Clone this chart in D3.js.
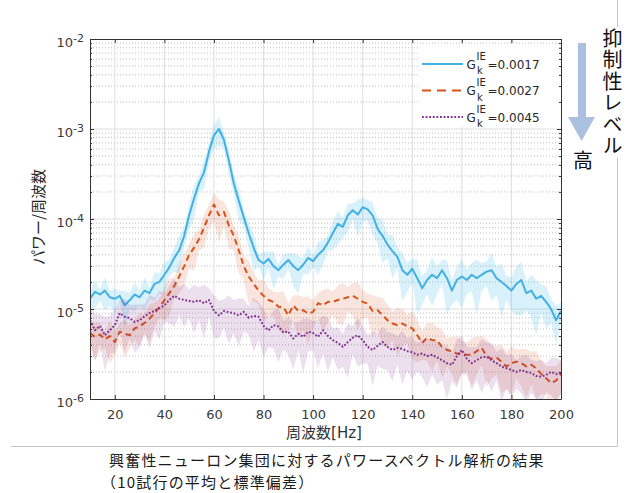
<!DOCTYPE html>
<html lang="ja">
<head>
<meta charset="utf-8">
<script src="https://d3js.org/d3.v7.min.js"></script>
<style>
  body { margin: 0; background: #fff; }
  svg { display: block; }
</style>
</head>
<body>
<script>
// power spectra (mean of 10 trials), values in units of 1e-6
const unit = 1e-6;
const freqs = [10,12,14,16,18,20,22,24,26,28,30,32,34,36,38,40,42,44,46,48,
  50,52,54,56,58,60,62,64,66,68,70,72,74,76,78,80,82,84,86,88,
  90,92,94,96,98,100,102,104,106,108,110,112,114,116,118,120,122,124,126,128,
  130,132,134,136,138,140,142,144,146,148,150,152,154,156,158,160,162,164,166,168,
  170,172,174,176,178,180,182,184,186,188,190,192,194,196,198,200];

const blueMean = [13, 15.5, 14.5, 16, 13.5, 13, 14, 11, 12.5, 14.5,
  13.5, 16, 15, 19, 20, 24, 29, 37, 45, 65,
  110, 170, 250, 330, 560, 850, 1000, 760, 450, 250,
  160, 105, 70, 48, 35, 32, 36, 30, 27, 31,
  35, 30, 27, 31, 37, 34, 40, 45, 55, 70,
  88, 82, 110, 125, 112, 135, 128, 110, 78, 65,
  52, 44, 38, 27, 24, 28, 22, 17, 21, 24,
  22, 27, 22, 16, 21, 23, 21, 24, 22, 24,
  26, 27, 22, 20, 18, 16, 19, 21, 15, 16,
  13, 14, 12, 10, 7.5, 9.5];

const orangeMean = [5.4, 4.9, 5.2, 4.6, 5.0, 4.3, 5.6, 5.3, 5.1, 6.1,
  6.4, 7, 7.8, 9, 10.5, 12.5, 15, 18, 23, 30,
  40, 48, 60, 80, 110, 145, 110, 120, 85, 65,
  45, 30, 23, 19, 16, 14, 12.6, 12, 10.6, 10.5,
  8.5, 11, 9.5, 9.7, 8.9, 9.3, 11.6, 11, 12, 12,
  12.6, 13, 13.5, 14, 13, 12, 11.5, 9.5, 9.7, 8.6,
  7.5, 6.9, 6.6, 6.9, 6.4, 6.1, 5.1, 4.2, 4.8, 4.5,
  4.5, 3.8, 3.5, 3.4, 3.2, 3.2, 3.1, 3.1, 3.4, 3.7,
  3.0, 2.8, 2.9, 2.6, 2.3, 2.5, 2.6, 2.5, 2.3, 2.4,
  2.2, 1.9, 1.7, 1.5, 1.6, 1.9];

const purpleMean = [7.5, 5.8, 6.5, 5.1, 5.8, 6.6, 9, 8.2, 7.9, 7.2,
  7.5, 8.3, 9, 9.5, 10.2, 11, 12.6, 14, 13, 12.6,
  12.3, 12, 12.5, 11.6, 12.6, 9.5, 8.5, 9.5, 9.2, 9,
  8.5, 9.3, 8, 8.4, 8.2, 6.5, 5.8, 6.6, 6.4, 5.5,
  5.6, 4.7, 5.3, 4.9, 5.6, 5.4, 4.9, 5.8, 5, 4.5,
  4.2, 3.8, 4.3, 4.8, 5.1, 4.5, 3.8, 3.5, 3.9, 4.3,
  3.8, 3.5, 3.7, 3.6, 3.4, 3.3, 3.1, 3.2, 3.0, 3.1,
  2.9, 2.7, 2.5, 2.4, 3.0, 3.5, 2.8, 2.5, 2.7, 2.9,
  2.95, 2.7, 2.5, 2.3, 2.2, 2.1, 2.0, 2.1, 2.0, 1.95,
  1.8, 1.77, 1.85, 2.0, 1.9, 1.94];

// standard deviation relative to the mean
const blueSd = [.2,.35,.15,.4,.2,.3,.15,.45,.2,.35,
  .2,.4,.15,.35,.25,.4,.2,.3,.45,.25,
  .3,.4,.2,.35,.25,.3,.35,.2,.3,.25,
  .4,.2,.3,.45,.15,.35,.2,.45,.15,.3,
  .2,.4,.45,.2,.35,.15,.4,.3,.2,.35,
  .4,.25,.35,.2,.45,.3,.25,.4,.3,.5,
  .3,.5,.25,.55,.35,.3,.6,.35,.3,.55,
  .35,.3,.6,.3,.4,.55,.3,.35,.6,.35,
  .3,.55,.35,.6,.3,.4,.55,.6,.35,.5,
  .6,.35,.5,.3,.45,.25];

const orangeSd = [.3,.45,.35,.2,.5,.3,.25,.45,.3,.25,
  .4,.25,.45,.3,.25,.4,.45,.25,.35,.4,
  .3,.45,.25,.4,.3,.35,.5,.3,.45,.3,
  .45,.3,.5,.35,.3,.5,.35,.3,.45,.5,
  .35,.3,.5,.4,.55,.35,.3,.5,.4,.3,
  .45,.5,.3,.4,.55,.35,.3,.5,.4,.55,
  .5,.35,.55,.45,.35,.55,.5,.35,.45,.55,
  .4,.55,.35,.45,.55,.4,.35,.55,.45,.35,
  .55,.4,.35,.55,.45,.55,.35,.45,.55,.4,
  .55,.4,.35,.55,.45,.4];

const purpleSd = [.4,.55,.35,.6,.45,.5,.35,.6,.4,.55,
  .5,.35,.6,.4,.55,.35,.45,.55,.35,.5,
  .35,.55,.4,.6,.35,.5,.45,.35,.55,.4,
  .55,.4,.35,.6,.45,.55,.35,.45,.6,.35,
  .45,.55,.35,.6,.4,.35,.55,.45,.6,.35,
  .5,.4,.6,.35,.55,.45,.35,.6,.4,.5,
  .45,.55,.35,.6,.4,.5,.35,.45,.55,.4,
  .5,.4,.6,.35,.55,.45,.35,.5,.4,.6,
  .45,.55,.35,.6,.4,.5,.35,.45,.55,.4,
  .45,.55,.35,.45,.5,.4];

const legendValues = ["0.0017", "0.0027", "0.0045"];
const xTicks = [20, 40, 60, 80, 100, 120, 140, 160, 180, 200];
const yTicks = [1e-6, 1e-5, 1e-4, 1e-3, 1e-2];
const yTickExp = ["-6", "-5", "-4", "-3", "-2"];
const captionLines = ["興奮性ニューロン集団に対するパワースペクトル解析の結果", "（10試行の平均と標準偏差）"];

const W = 626, H = 493;
const plot = {left: 90, right: 561, top: 39, bottom: 399};

const svg = d3.select("body").append("svg")
  .attr("width", W)
  .attr("height", H);

const x = d3.scaleLinear().domain([10, 200]).range([plot.left, plot.right]);
const y = d3.scaleLog().domain([1e-6, 1e-2]).range([plot.bottom, plot.top]);

// minor log ticks 2..9 per decade
var yMinor = [];
yTicks.slice(0, -1).forEach(function(d) {
  for (var m = 2; m <= 9; m++) yMinor.push(d * m);
});

svg.append("defs").append("clipPath").attr("id", "clip")
  .append("rect")
  .attr("x", plot.left).attr("y", plot.top)
  .attr("width", plot.right - plot.left)
  .attr("height", plot.bottom - plot.top);

// grid
const grid = svg.append("g");
grid.selectAll(".minor").data(yMinor).enter().append("line")
  .attr("x1", plot.left).attr("x2", plot.right)
  .attr("y1", d => y(d)).attr("y2", d => y(d))
  .attr("stroke", "#bdbdbd")
  .attr("stroke-width", 1)
  .attr("stroke-dasharray", "1,2");
grid.selectAll(".vmajor").data(xTicks.slice(0, -1)).enter().append("line")
  .attr("x1", d => x(d)).attr("x2", d => x(d))
  .attr("y1", plot.top).attr("y2", plot.bottom)
  .attr("stroke", "#dedede");
grid.selectAll(".hmajor").data(yTicks.slice(1, -1)).enter().append("line")
  .attr("x1", plot.left).attr("x2", plot.right)
  .attr("y1", d => y(d)).attr("y2", d => y(d))
  .attr("stroke", "#dedede");

const series = [
  {mean: blueMean, sd: blueSd, color: "#43b0e3", band: "#4dbeee", op: 0.22, dash: null, legendDash: null, width: 2},
  {mean: orangeMean, sd: orangeSd, color: "#d95319", band: "#d95319", op: 0.15, dash: "6,4", legendDash: "9,6", width: 2},
  {mean: purpleMean, sd: purpleSd, color: "#7e2f8e", band: "#7e2f8e", op: 0.15, dash: "1.8,1.8", legendDash: "1.8,1.8", width: 2}
];

const plotArea = svg.append("g").attr("clip-path", "url(#clip)");

series.forEach(function(s) {
  var area = d3.area()
    .x((d, i) => x(freqs[i]))
    .y0((d, i) => y(d * (1 - s.sd[i]) * unit))
    .y1((d, i) => y(d * (1 + s.sd[i]) * unit));
  plotArea.append("path")
    .datum(s.mean)
    .attr("d", area)
    .attr("fill", s.band)
    .attr("fill-opacity", s.op);

  var line = d3.line()
    .x((d, i) => x(freqs[i]))
    .y(d => y(d * unit));
  plotArea.append("path")
    .datum(s.mean)
    .attr("d", line)
    .attr("fill", "none")
    .attr("stroke", s.color)
    .attr("stroke-width", s.width)
    .attr("stroke-dasharray", s.dash)
    .attr("stroke-linejoin", "round");
});

// legend (white box, no border)
const legend = svg.append("g");
legend.append("rect")
  .attr("x", 418).attr("y", 44)
  .attr("width", 141).attr("height", 83)
  .attr("fill", "#fff");
series.forEach(function(s, i) {
  var ly = 64 + i * 26.5;
  legend.append("line")
    .attr("x1", 422).attr("x2", 463)
    .attr("y1", ly).attr("y2", ly)
    .attr("stroke", s.color)
    .attr("stroke-width", s.width)
    .attr("stroke-dasharray", s.legendDash);
  var t = legend.append("g").attr("font-family", "DejaVu Sans").attr("fill", "#262626");
  t.append("text").attr("x", 466.5).attr("y", ly + 4.5).attr("font-size", 12).text("G");
  t.append("text").attr("x", 476.5).attr("y", ly - 4.5).attr("font-size", 10).text("IE");
  t.append("text").attr("x", 477).attr("y", ly + 10).attr("font-size", 10).text("k");
  t.append("text").attr("x", 487.5).attr("y", ly + 4.5).attr("font-size", 12).text("=" + legendValues[i]);
});

// axes box with inward ticks
function styleAxis(g) {
  g.attr("font-family", "DejaVu Sans").attr("font-size", 13).attr("color", "#333");
  g.selectAll("text").attr("fill", "#3a3a3a");
}

svg.append("g")
  .attr("transform", "translate(0," + plot.bottom + ")")
  .call(d3.axisBottom(x).tickValues(xTicks).tickSize(-4).tickSizeOuter(0).tickPadding(11))
  .call(styleAxis);

svg.append("g")
  .attr("transform", "translate(0," + plot.top + ")")
  .call(d3.axisTop(x).tickValues(xTicks).tickSize(-4).tickSizeOuter(0).tickFormat(""))
  .call(styleAxis);

const yAxis = svg.append("g")
  .attr("transform", "translate(" + plot.left + ",0)")
  .call(d3.axisLeft(y).tickValues(yTicks).tickSize(-4).tickSizeOuter(0).tickPadding(6).tickFormat(() => "10"))
  .call(styleAxis);
yAxis.selectAll(".tick text")
  .attr("dy", "0.6em")
  .each(function(d, i) {
    d3.select(this).append("tspan")
      .attr("dy", -5.5)
      .attr("font-size", 11)
      .text(yTickExp[i]);
  });

svg.append("g")
  .attr("transform", "translate(" + plot.right + ",0)")
  .call(d3.axisRight(y).tickValues(yTicks).tickSize(-4).tickSizeOuter(0).tickFormat(""))
  .call(styleAxis);

svg.append("g")
  .attr("transform", "translate(" + plot.left + ",0)")
  .call(d3.axisLeft(y).tickValues(yMinor).tickSize(-2).tickFormat(""))
  .call(styleAxis)
  .select(".domain").remove();
svg.append("g")
  .attr("transform", "translate(" + plot.right + ",0)")
  .call(d3.axisRight(y).tickValues(yMinor).tickSize(-2).tickFormat(""))
  .call(styleAxis)
  .select(".domain").remove();

// axis titles
svg.append("text")
  .attr("x", 324).attr("y", 438)
  .attr("text-anchor", "middle")
  .attr("font-family", "'DejaVu Sans', 'Noto Sans CJK JP'")
  .attr("font-size", 15)
  .attr("fill", "#333")
  .text("周波数[Hz]");

svg.append("text")
  .attr("transform", "translate(37,217) rotate(-90)")
  .attr("text-anchor", "middle")
  .attr("dominant-baseline", "central")
  .attr("font-family", "'Noto Sans CJK JP'")
  .attr("font-size", 15)
  .attr("fill", "#262626")
  .text("パワー/周波数");

// frame lines of the slide
svg.append("line")
  .attr("x1", 11).attr("x2", 617.5)
  .attr("y1", 446.5).attr("y2", 446.5)
  .attr("stroke", "#c4c4c4");
svg.append("line")
  .attr("x1", 617.5).attr("x2", 617.5)
  .attr("y1", 0).attr("y2", 446.5)
  .attr("stroke", "#c4c4c4");

// inhibition level arrow
svg.append("rect")
  .attr("x", 578).attr("y", 43)
  .attr("width", 8).attr("height", 75)
  .attr("fill", "#abc0df");
svg.append("path")
  .attr("d", "M568,117 L595,117 L581.5,141 Z")
  .attr("fill", "#abc0df");
svg.append("text")
  .attr("x", 583).attr("y", 159)
  .attr("text-anchor", "middle")
  .attr("dominant-baseline", "central")
  .attr("font-family", "'Noto Sans CJK JP'")
  .attr("font-size", 20)
  .attr("fill", "#111")
  .text("高");

svg.append("rect")
  .attr("x", 603).attr("y", 27)
  .attr("width", 23).attr("height", 131)
  .attr("fill", "#fff");
svg.append("text")
  .attr("x", 612.5).attr("y", 28)
  .attr("style", "writing-mode: vertical-rl; letter-spacing: 1.5px")
  .attr("font-family", "'Noto Sans CJK JP'")
  .attr("font-size", 20)
  .attr("fill", "#111")
  .text("抑制性レベル");

// caption, two lines
const caption = svg.append("g")
  .attr("font-family", "'Noto Sans CJK JP'")
  .attr("font-size", 15)
  .attr("letter-spacing", "1.2px")
  .attr("fill", "#1a1a1a");
caption.selectAll("text")
  .data(captionLines)
  .enter().append("text")
  .attr("x", (d, i) => i === 0 ? 109 : 101)
  .attr("y", (d, i) => 466 + i * 22)
  .text(d => d);
</script>
</body>
</html>
